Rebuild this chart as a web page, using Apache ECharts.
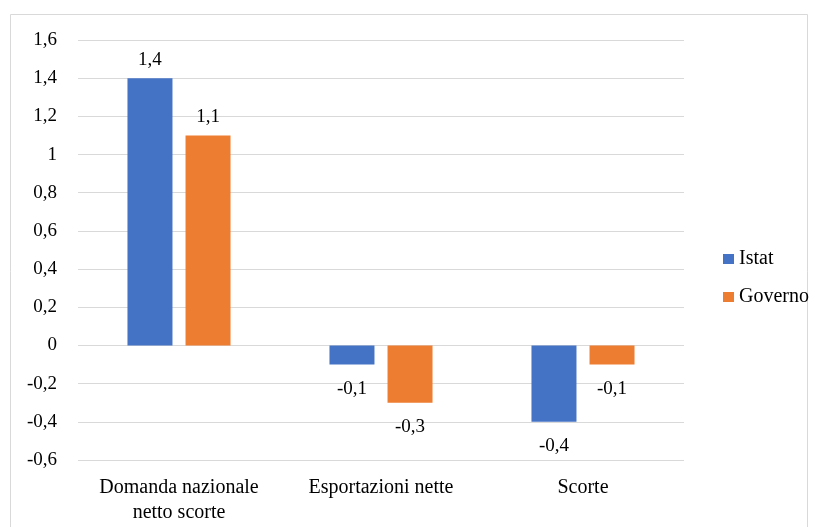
<!DOCTYPE html>
<html><head><meta charset="utf-8">
<script src="https://cdn.jsdelivr.net/npm/echarts@6/dist/echarts.min.js"></script>
<style>html,body{margin:0;padding:0;background:#fff}#c{width:817px;height:527px}</style>
</head><body><div id="c"></div>
<script>
const categories = ['Domanda nazionale\nnetto scorte', 'Esportazioni nette', 'Scorte'];
const istat = [1.4, -0.1, -0.4];
const governo = [1.1, -0.3, -0.1];
const seriesNames = ['Istat', 'Governo'];
const colors = ['#4472C4', '#ED7D31'];
const fmt = v => String(v).replace('.', ',');
const font = '"Liberation Serif", "Times New Roman", serif';
function mk(vals){
  return vals.map(v => ({value: v, label: v < 0 ? {position: 'bottom', distance: 15} : {position: 'top', distance: 9}}));
}
const chart = echarts.init(document.getElementById('c'));
chart.setOption({
  animation: false,
  textStyle: {fontFamily: font},
  graphic: [{type: 'rect', shape: {x: 10.5, y: 14.5, width: 797, height: 520}, style: {fill: 'none', stroke: '#d9d9d9', lineWidth: 1}}],
  grid: {left: 78, right: 133, top: 40, bottom: 67},
  legend: {orient: 'vertical', left: 718, top: 244, itemGap: 18, itemWidth: 11, itemHeight: 10,
    icon: 'rect', textStyle: {fontFamily: font, fontSize: 20, color: '#000'}, data: seriesNames},
  xAxis: {type: 'category', data: categories,
    axisLine: {show: false}, axisTick: {show: false},
    axisLabel: {fontFamily: font, fontSize: 20, color: '#000', margin: 15, lineHeight: 25, interval: 0}},
  yAxis: {type: 'value', min: -0.6, max: 1.6, interval: 0.2,
    axisLine: {show: false}, axisTick: {show: false},
    splitLine: {lineStyle: {color: '#d9d9d9', width: 1}},
    axisLabel: {fontFamily: font, fontSize: 19, color: '#000', margin: 21,
      formatter: v => fmt(Math.round(v * 10) / 10)}},
  series: [
    {name: seriesNames[0], type: 'bar', data: mk(istat), barWidth: 45, barGap: '29%',
     itemStyle: {color: colors[0]},
     label: {show: true, fontFamily: font, fontSize: 19, color: '#000', formatter: p => fmt(p.value)}},
    {name: seriesNames[1], type: 'bar', data: mk(governo), barWidth: 45, barGap: '29%',
     itemStyle: {color: colors[1]},
     label: {show: true, fontFamily: font, fontSize: 19, color: '#000', formatter: p => fmt(p.value)}}
  ]
});
</script></body></html>
